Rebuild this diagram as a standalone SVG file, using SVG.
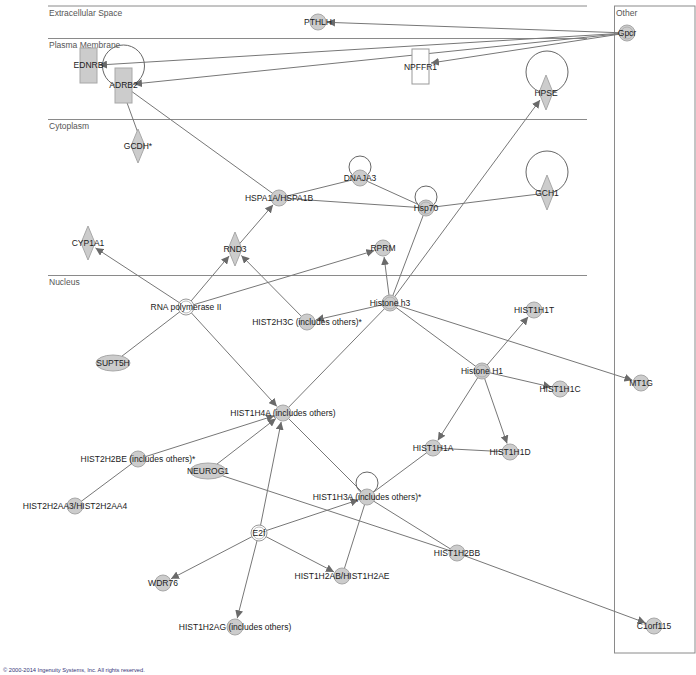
<svg xmlns="http://www.w3.org/2000/svg" width="696" height="675" viewBox="0 0 696 675">
<style>
.bg{fill:#ffffff}
.comp{stroke:#8a8a8a;stroke-width:1;fill:none}
.clab{font-family:"Liberation Sans",Arial,sans-serif;font-size:8.5px;fill:#555555}
.e{stroke:#777777;stroke-width:1;fill:none}
.ea{stroke:#777777;stroke-width:1;fill:none;marker-end:url(#arr)}
.loop{stroke:#666666;stroke-width:1;fill:none}
.n{fill:#cccccc;stroke:#a8a8a8;stroke-width:1}
.w{fill:#ffffff;stroke:#999999;stroke-width:1}
.in{fill:none;stroke:#a8a8a8;stroke-width:0.8}
.t{font-family:"Liberation Sans",Arial,sans-serif;font-size:8.5px;fill:#1a1a1a;text-anchor:middle}
.copy{font-family:"Liberation Sans",Arial,sans-serif;font-size:5.7px;fill:#333377}
</style>
<defs>
<marker id="arr" viewBox="0 0 10 10" refX="10" refY="5" markerWidth="8" markerHeight="8" markerUnits="userSpaceOnUse" orient="auto">
<path d="M0,0 L10,5 L0,10 z" fill="#6a6a6a"/>
</marker>
</defs>
<rect class="bg" x="0" y="0" width="696" height="675"/>
<g id="compartments">
<line class="comp" x1="48" y1="6" x2="587" y2="6"/>
<line class="comp" x1="48" y1="38.5" x2="587" y2="38.5"/>
<line class="comp" x1="48" y1="119.5" x2="587" y2="119.5"/>
<line class="comp" x1="48" y1="275.5" x2="587" y2="275.5"/>
<rect class="comp" x="614.5" y="6" width="80.5" height="647"/>
<text class="clab" x="49" y="16">Extracellular Space</text>
<text class="clab" x="49" y="48">Plasma Membrane</text>
<text class="clab" x="49" y="129">Cytoplasm</text>
<text class="clab" x="49" y="285">Nucleus</text>
<text class="clab" x="616" y="16">Other</text>
</g>
<g id="connectors">
<line class="ea" x1="627" y1="33" x2="327" y2="22.3"/>
<line class="ea" x1="627" y1="33" x2="99" y2="65"/>
<line class="ea" x1="627" y1="33" x2="134" y2="84"/>
<line class="ea" x1="627" y1="33" x2="431" y2="63"/>
<line class="e" x1="126" y1="100" x2="138" y2="133"/>
<line class="e" x1="123.5" y1="85.5" x2="279" y2="198"/>
<line class="e" x1="279" y1="198" x2="360" y2="178"/>
<line class="e" x1="279" y1="198" x2="426" y2="208"/>
<line class="e" x1="360" y1="178" x2="426" y2="208"/>
<line class="e" x1="426" y1="208" x2="547" y2="193"/>
<line class="ea" x1="235" y1="249" x2="273.1" y2="204.8"/>
<line class="ea" x1="186" y1="307" x2="95.5" y2="247.9"/>
<line class="ea" x1="186" y1="307" x2="229.2" y2="255.9"/>
<line class="ea" x1="186" y1="307" x2="374.4" y2="250.6"/>
<line class="ea" x1="307" y1="322" x2="241.3" y2="255.4"/>
<line class="ea" x1="390" y1="303" x2="315.8" y2="320"/>
<line class="ea" x1="390" y1="303" x2="384.1" y2="256.9"/>
<line class="e" x1="390" y1="303" x2="426" y2="208"/>
<line class="ea" x1="390" y1="303" x2="540" y2="100"/>
<line class="ea" x1="390" y1="303" x2="632.4" y2="380.3"/>
<line class="e" x1="390" y1="303" x2="482" y2="371"/>
<line class="e" x1="390" y1="303" x2="283" y2="413"/>
<line class="ea" x1="186" y1="307" x2="276.9" y2="406.4"/>
<line class="e" x1="186" y1="307" x2="113" y2="363"/>
<line class="ea" x1="482" y1="371" x2="528.2" y2="316.8"/>
<line class="ea" x1="482" y1="371" x2="551.2" y2="387"/>
<line class="ea" x1="482" y1="371" x2="437.8" y2="440.4"/>
<line class="ea" x1="482" y1="371" x2="507.1" y2="443.5"/>
<line class="e" x1="433" y1="448" x2="510" y2="452"/>
<line class="e" x1="433" y1="448" x2="367" y2="497"/>
<line class="ea" x1="138" y1="459" x2="274.4" y2="415.7"/>
<line class="e" x1="138" y1="459" x2="75" y2="506"/>
<line class="ea" x1="208" y1="471" x2="275.9" y2="418.5"/>
<line class="ea" x1="259" y1="533" x2="281.2" y2="421.8"/>
<line class="e" x1="283" y1="413" x2="367" y2="497"/>
<line class="e" x1="208" y1="471" x2="457" y2="553"/>
<line class="ea" x1="259" y1="533" x2="358.5" y2="499.8"/>
<line class="ea" x1="259" y1="533" x2="334" y2="571.9"/>
<line class="ea" x1="259" y1="533" x2="171" y2="578.8"/>
<line class="ea" x1="259" y1="533" x2="237.2" y2="618.3"/>
<line class="e" x1="367" y1="497" x2="342" y2="576"/>
<line class="e" x1="367" y1="497" x2="457" y2="553"/>
<line class="ea" x1="457" y1="553" x2="645.6" y2="622.9"/>
<circle class="loop" cx="123.5" cy="66" r="21"/>
<circle class="loop" cx="547" cy="72" r="21"/>
<circle class="loop" cx="547" cy="172" r="21"/>
<circle class="loop" cx="360" cy="167" r="11"/>
<circle class="loop" cx="426" cy="197" r="11"/>
<circle class="loop" cx="367" cy="483" r="11"/>
</g>
<g id="PTHLH"><circle class="n" cx="318" cy="22" r="8"/><text class="t" x="318" y="25">PTHLH</text></g>
<g id="Gpcr"><circle class="n" cx="627" cy="33" r="8"/><circle class="in" cx="627" cy="33" r="6"/><text class="t" x="627" y="36">Gpcr</text></g>
<g id="EDNRB"><rect class="n" x="80" y="48" width="17" height="35"/><text class="t" x="88.5" y="68">EDNRB</text></g>
<g id="ADRB2"><rect class="n" x="115" y="68" width="17" height="35"/><text class="t" x="123.5" y="88">ADRB2</text></g>
<g id="NPFFR1"><rect class="w" x="412" y="49" width="17" height="35"/><text class="t" x="420.5" y="70">NPFFR1</text></g>
<g id="HPSE"><polygon class="n" points="546,75 553,92.5 546,110 539,92.5"/><text class="t" x="546" y="96">HPSE</text></g>
<g id="GCDH"><polygon class="n" points="138,129 145,146 138,163 131,146"/><text class="t" x="138" y="149">GCDH*</text></g>
<g id="CYP1A1"><polygon class="n" points="88,226 95,243 88,260 81,243"/><text class="t" x="88" y="246">CYP1A1</text></g>
<g id="RND3"><polygon class="n" points="235,232 242,249 235,266 228,249"/><text class="t" x="235" y="252">RND3</text></g>
<g id="HSPA1A_HSPA1B"><circle class="n" cx="279" cy="198" r="8"/><text class="t" x="279" y="201">HSPA1A/HSPA1B</text></g>
<g id="DNAJA3"><circle class="n" cx="360" cy="178" r="8"/><text class="t" x="360" y="181">DNAJA3</text></g>
<g id="Hsp70"><circle class="n" cx="426" cy="208" r="8"/><circle class="in" cx="426" cy="208" r="6"/><text class="t" x="426" y="211">Hsp70</text></g>
<g id="GCH1"><polygon class="n" points="547,175 554,192.5 547,210 540,192.5"/><text class="t" x="547" y="196">GCH1</text></g>
<g id="RPRM"><circle class="n" cx="383" cy="248" r="8"/><text class="t" x="383" y="251">RPRM</text></g>
<g id="RNA_polymerase_II"><circle class="w" cx="186" cy="307" r="8"/><circle class="in" cx="186" cy="307" r="6"/><text class="t" x="186" y="310">RNA polymerase II</text></g>
<g id="HIST2H3C"><circle class="n" cx="307" cy="322" r="8"/><text class="t" x="307" y="325">HIST2H3C (includes others)*</text></g>
<g id="Histone_h3"><circle class="n" cx="390" cy="303" r="8"/><circle class="in" cx="390" cy="303" r="6"/><text class="t" x="390" y="306">Histone h3</text></g>
<g id="HIST1H1T"><circle class="n" cx="534" cy="310" r="8"/><text class="t" x="534" y="313">HIST1H1T</text></g>
<g id="Histone_H1"><circle class="n" cx="482" cy="371" r="8"/><circle class="in" cx="482" cy="371" r="6"/><text class="t" x="482" y="374">Histone H1</text></g>
<g id="HIST1H1C"><circle class="n" cx="560" cy="389" r="8"/><text class="t" x="560" y="392">HIST1H1C</text></g>
<g id="MT1G"><circle class="n" cx="641" cy="383" r="8"/><text class="t" x="641" y="386">MT1G</text></g>
<g id="SUPT5H"><ellipse class="n" cx="113" cy="363" rx="17" ry="8"/><text class="t" x="113" y="366">SUPT5H</text></g>
<g id="HIST1H4A"><circle class="n" cx="283" cy="413" r="8"/><text class="t" x="283" y="416">HIST1H4A (includes others)</text></g>
<g id="HIST2H2BE"><circle class="n" cx="138" cy="459" r="8"/><text class="t" x="138" y="462">HIST2H2BE (includes others)*</text></g>
<g id="NEUROG1"><ellipse class="n" cx="208" cy="471" rx="18" ry="8"/><text class="t" x="208" y="474">NEUROG1</text></g>
<g id="HIST2H2AA3_HIST2H2AA4"><circle class="n" cx="75" cy="506" r="8"/><text class="t" x="75" y="509">HIST2H2AA3/HIST2H2AA4</text></g>
<g id="E2f"><circle class="w" cx="259" cy="533" r="8"/><circle class="in" cx="259" cy="533" r="6"/><text class="t" x="259" y="536">E2f</text></g>
<g id="HIST1H1A"><circle class="n" cx="433" cy="448" r="8"/><text class="t" x="433" y="451">HIST1H1A</text></g>
<g id="HIST1H1D"><circle class="n" cx="510" cy="452" r="8"/><text class="t" x="510" y="455">HIST1H1D</text></g>
<g id="HIST1H3A"><circle class="n" cx="367" cy="497" r="8"/><text class="t" x="367" y="500">HIST1H3A (includes others)*</text></g>
<g id="HIST1H2BB"><circle class="n" cx="457" cy="553" r="8"/><text class="t" x="457" y="556">HIST1H2BB</text></g>
<g id="HIST1H2AB_HIST1H2AE"><circle class="n" cx="342" cy="576" r="8"/><text class="t" x="342" y="579">HIST1H2AB/HIST1H2AE</text></g>
<g id="WDR76"><circle class="n" cx="163" cy="583" r="8"/><text class="t" x="163" y="586">WDR76</text></g>
<g id="HIST1H2AG"><circle class="n" cx="235" cy="627" r="8"/><text class="t" x="235" y="630">HIST1H2AG (includes others)</text></g>
<g id="C1orf115"><circle class="n" cx="654" cy="626" r="8"/><text class="t" x="654" y="629">C1orf115</text></g>
<text class="copy" x="3" y="672">© 2000-2014 Ingenuity Systems, Inc. All rights reserved.</text>
</svg>
